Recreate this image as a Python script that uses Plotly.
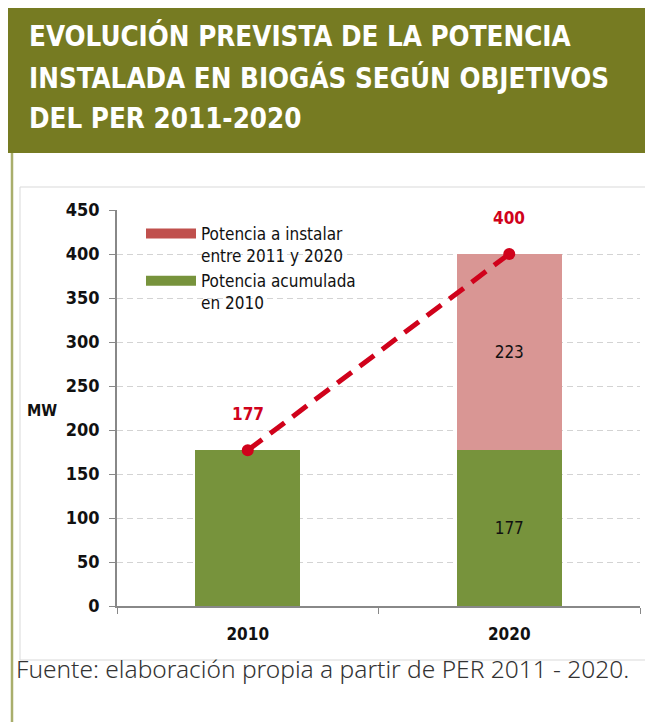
import plotly.graph_objects as go

categories = ["2010", "2020"]
acumulada = [177, 177]
a_instalar = [None, 223]
total = [177, 400]
acum_text = ["", "177"]
inst_text = ["", "223"]
y_ticks = [0, 50, 100, 150, 200, 250, 300, 350, 400, 450]

GREEN = "#77933C"
RED_LEG = "#C0504D"
PINK = "#D99694"
LINE_RED = "#D0021B"
OLIVE = "#767B22"
COND = "DejaVu Sans Condensed, Roboto, sans-serif"

OFF = 8  # body margin of the page
W, H = 653, 722
# plot area in page coordinates: x 117..640, y 210..606
L = 117 - OFF
T = 210 - OFF
R = W - (640 - OFF)
B = H - (606 - OFF)
PW, PH = W - L - R, H - T - B


def px(x):
    return (x - OFF - L) / PW


def py(y):
    return (H - B - (y - OFF)) / PH


fig = go.Figure()
fig.add_trace(go.Bar(x=categories, y=acumulada, marker=dict(color=GREEN, line=dict(width=0)), width=0.4,
                     text=acum_text, textposition="inside", insidetextanchor="middle",
                     textfont=dict(color="#111", size=17, family=COND),
                     showlegend=False, hoverinfo="skip"))
fig.add_trace(go.Bar(x=categories, y=a_instalar, marker=dict(color=PINK, line=dict(width=0)), width=0.4,
                     text=inst_text, textposition="inside", insidetextanchor="middle",
                     textfont=dict(color="#111", size=17, family=COND),
                     showlegend=False, hoverinfo="skip"))
fig.add_trace(go.Scatter(x=categories, y=total, mode="lines+markers",
                         line=dict(color=LINE_RED, width=5, dash="18px,10px"),
                         marker=dict(size=12, color=LINE_RED),
                         showlegend=False, hoverinfo="skip", cliponaxis=False))
# legend entries
fig.add_trace(go.Scatter(x=[None], y=[None], mode="lines", name="Potencia a instalar<br>entre 2011 y 2020",
                         legendgroup="a", line=dict(color=RED_LEG, width=14)))
fig.add_trace(go.Scatter(x=[None], y=[None], mode="lines", name="Potencia acumulada<br>en 2010",
                         legendgroup="b", line=dict(color=GREEN, width=14)))

shapes = [
    dict(type="rect", xref="paper", yref="paper", x0=px(8), x1=px(700), y0=py(153), y1=py(0),
         fillcolor=OLIVE, line=dict(width=0), layer="below"),
    dict(type="line", xref="paper", yref="paper", x0=px(12), x1=px(12), y0=py(153), y1=py(740),
         line=dict(color="#A9AE6C", width=2.5)),
    dict(type="rect", xref="paper", yref="paper", x0=px(20), x1=px(700), y0=py(660), y1=py(187),
         line=dict(color="#D9D9D9", width=1), layer="below"),
]

annotations = []
for i, v in enumerate(total):
    annotations.append(dict(text=str(v), x=i, y=v, xref="x", yref="y",
                            yshift=36, showarrow=False,
                            font=dict(color=LINE_RED, size=17, family=COND, weight="bold")))
title_lines = ["EVOLUCIÓN PREVISTA DE LA POTENCIA", "INSTALADA EN BIOGÁS SEGÚN OBJETIVOS", "DEL PER 2011-2020"]
for i, t in enumerate(title_lines):
    annotations.append(dict(text=t, xref="paper", yref="paper", x=px(27), y=py(36 + i * 41),
                            xanchor="left", yanchor="middle", showarrow=False,
                            font=dict(color="white", size=27.5, family=COND, weight="bold")))
annotations.append(dict(text="MW", xref="paper", yref="paper", x=px(42), y=py(410),
                        xanchor="center", yanchor="middle", showarrow=False,
                        font=dict(color="#111", size=16, family=COND, weight="bold")))
annotations.append(dict(text="Fuente: elaboración propia a partir de PER 2011 - 2020.", xref="paper", yref="paper",
                        x=px(322), y=py(668), xanchor="center", yanchor="middle", showarrow=False,
                        font=dict(color="#333", size=24.5, family="Noto Sans", weight=300)))

fig.update_layout(
    width=W, height=H, margin=dict(l=L, r=R, t=T, b=B),
    paper_bgcolor="white", plot_bgcolor="white",
    barmode="stack", bargap=0.6,
    shapes=shapes, annotations=annotations,
    legend=dict(x=px(141), y=py(216), xanchor="left", yanchor="top", bgcolor="rgba(0,0,0,0)",
                font=dict(size=17, family=COND, color="#111"),
                valign="top", tracegroupgap=11, traceorder="normal", itemwidth=50),
    xaxis=dict(type="category", range=[-0.5, 1.5], showline=True, linecolor="#888", linewidth=1.5,
               ticks="outside", tickson="boundaries", ticklen=6, tickcolor="#888",
               ticklabelstandoff=12,
               tickfont=dict(size=17, family=COND, color="#111", weight="bold"),
               showgrid=False),
    yaxis=dict(range=[0, 450], tickvals=y_ticks, showline=True, linecolor="#888", linewidth=1.5,
               ticks="outside", ticklen=6, tickcolor="#888", ticklabelstandoff=6,
               tickfont=dict(size=18, family=COND, color="#111", weight="bold"),
               showgrid=True, gridcolor="#D3D3D3", griddash="6px,4px", gridwidth=1.2,
               zeroline=False),
)

fig.write_html("out.html")
